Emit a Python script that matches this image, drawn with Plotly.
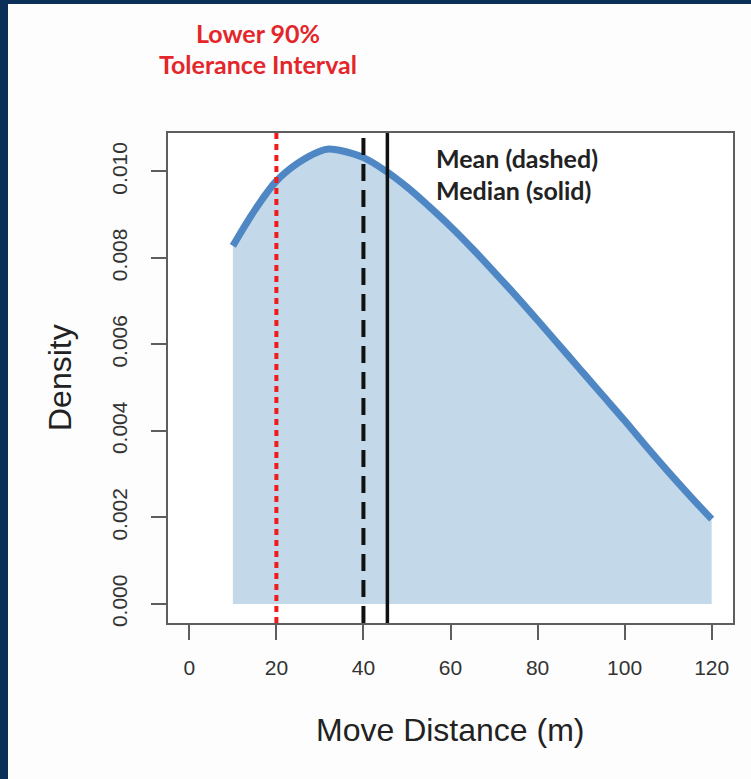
import plotly.graph_objects as go

# Kernel density of move distances (m)
DISTANCE = [10, 15, 20, 25, 30, 32, 35, 40, 45, 50, 55, 60, 65, 70, 75,
            80, 85, 90, 95, 100, 105, 110, 115, 120]
DENSITY = [0.00828, 0.00910, 0.00978, 0.01020, 0.01047, 0.01052, 0.01048,
           0.01032, 0.01002, 0.00964, 0.00920, 0.00873, 0.00822, 0.00768,
           0.00713, 0.00656, 0.00598, 0.00540, 0.00482, 0.00424, 0.00364,
           0.00306, 0.00250, 0.00196]

LOWER_90_TI = 20.0
MEAN_DIST = 40.0
MEDIAN_DIST = 45.5

X_TICKS = [0, 20, 40, 60, 80, 100, 120]
Y_TICKS = [0.000, 0.002, 0.004, 0.006, 0.008, 0.010]

W, H = 751, 779
ML, MR, MT, MB = 168, 18, 133, 156
PW, PH = W - ML - MR, H - MT - MB


def px_x(p):
    return (p - ML) / PW


def px_y(p):
    return (H - MB - p) / PH


NAVY = "#0c2f58"
FILL = "#c3d9ea"
LINE = "#4f87c5"
AXIS = "#5e5e5e"
TICKFONT = dict(family="Liberation Sans, Arial, sans-serif", size=21, color="#333333")
NOTEFONT = "Lato, Carlito, Calibri, sans-serif"

fig = go.Figure()
fig.add_trace(go.Scatter(
    x=DISTANCE, y=DENSITY, mode="lines", fill="tozeroy", fillcolor=FILL,
    line=dict(color=LINE, width=7, shape="spline"), hoverinfo="skip",
    showlegend=False,
))

shapes = [
    dict(type="line", xref="x", yref="paper", x0=LOWER_90_TI, x1=LOWER_90_TI,
         y0=0, y1=1, line=dict(color="#ee1c1c", width=4, dash="6px,5px")),
    dict(type="line", xref="x", yref="paper", x0=MEAN_DIST, x1=MEAN_DIST,
         y0=0, y1=1, line=dict(color="#111111", width=4, dash="17px,9px")),
    dict(type="line", xref="x", yref="paper", x0=MEDIAN_DIST, x1=MEDIAN_DIST,
         y0=0, y1=1, line=dict(color="#111111", width=3.5)),
    # dark frame along the top and left edges of the page
    dict(type="rect", xref="paper", yref="paper", x0=px_x(0), x1=px_x(8),
         y0=px_y(H), y1=px_y(0), fillcolor=NAVY, line=dict(width=0)),
    dict(type="rect", xref="paper", yref="paper", x0=px_x(0), x1=px_x(W),
         y0=px_y(4), y1=px_y(0), fillcolor=NAVY, line=dict(width=0)),
]

notes = [
    ("Lower 90%", 258, 33, "#e4262b", "center"),
    ("Tolerance Interval", 258, 64, "#e4262b", "center"),
    ("Mean (dashed)", 434, 158, "#222222", "left"),
    ("Median (solid)", 434, 190, "#222222", "left"),
]
annotations = []
for text, x, y, color, anchor in notes:
    annotations.append(dict(
        text=f"<b>{text}</b>", xref="paper", yref="paper", x=px_x(x), y=px_y(y),
        xanchor=anchor, yanchor="middle", showarrow=False,
        font=dict(family=NOTEFONT, size=25, color=color),
    ))

annotations.append(dict(
    text="Move Distance (m)", xref="paper", yref="paper", x=0.5, y=px_y(730),
    xanchor="center", yanchor="middle", showarrow=False,
    font=dict(family="Liberation Sans, Arial, sans-serif", size=32, color="#222222"),
))
annotations.append(dict(
    text="Density", xref="paper", yref="paper", x=px_x(60), y=0.5, textangle=-90,
    xanchor="center", yanchor="middle", showarrow=False,
    font=dict(family="Liberation Sans, Arial, sans-serif", size=32, color="#222222"),
))

axis_common = dict(
    showline=True, linecolor=AXIS, linewidth=2, mirror=True,
    ticks="outside", ticklen=15, tickwidth=2, tickcolor=AXIS,
    showgrid=False, zeroline=False, tickfont=TICKFONT,
)

fig.update_layout(
    width=W, height=H,
    margin=dict(l=ML, r=MR, t=MT, b=MB),
    paper_bgcolor="#fdfdfd", plot_bgcolor="#ffffff",
    xaxis=dict(range=[-4.9, 124.9], tickvals=X_TICKS, ticklabelstandoff=10,
               **axis_common),
    yaxis=dict(range=[-0.00044, 0.01089], tickvals=Y_TICKS, tickformat=".3f",
               tickangle=-90, ticklabelstandoff=16, **axis_common),
    shapes=shapes,
    annotations=annotations,
)

fig.write_html("out.html")
